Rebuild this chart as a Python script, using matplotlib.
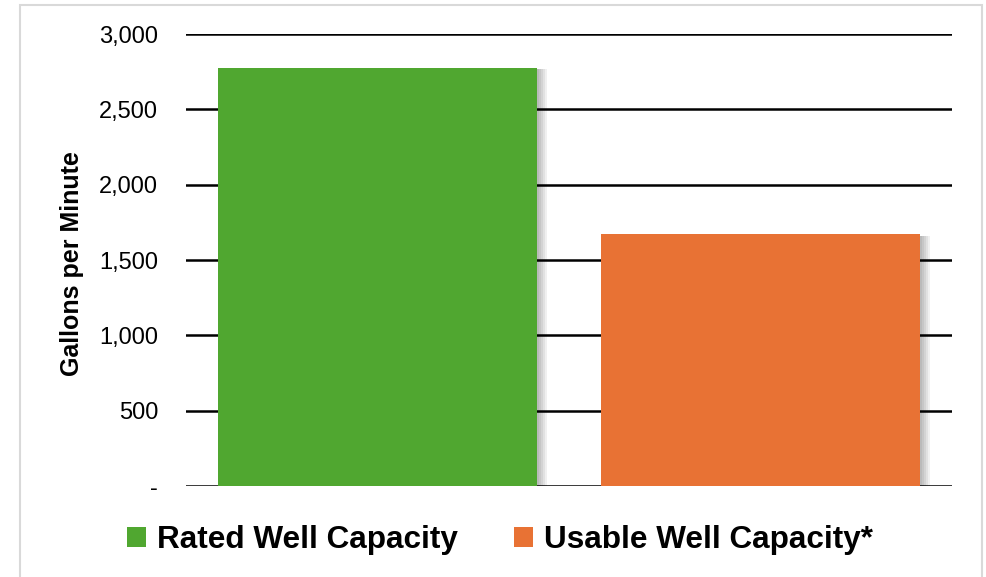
import matplotlib.pyplot as plt
import matplotlib.patheffects as pe
from matplotlib.patches import Rectangle, Patch

categories = ["Rated Well Capacity", "Usable Well Capacity*"]
values = [2775, 1670]
colors = ["#50A730", "#E87234"]
yticks = [0, 500, 1000, 1500, 2000, 2500, 3000]
ytick_labels = ["-", "500", "1,000", "1,500", "2,000", "2,500", "3,000"]

plt.rcParams['font.family'] = ['Liberation Sans', 'DejaVu Sans']

fig = plt.figure(figsize=(9.87, 5.77), dpi=100)
ax = fig.add_axes([186/987, 1 - 486/577, (952-186)/987, (486-34)/577])

# cadre gris autour de la figure
fig.patches.append(Rectangle((20/987, -0.01), (982-20)/987, 1 - 5/577 + 0.01,
                             transform=fig.transFigure, fill=False,
                             edgecolor="#d9d9d9", linewidth=1.5))

# lignes de grille
for y in yticks:
    ax.axhline(y, color="black", linewidth=1.8, zorder=1)

# ombre des barres
ombre = [pe.SimplePatchShadow(offset=(d, -1), shadow_rgbFace="black", alpha=0.06)
         for d in (7, 5.5, 4, 2.5, 1.2)]
x = range(len(categories))
bars = ax.bar(x, values, width=0.835, color=colors, zorder=2)
for b in bars:
    b.set_path_effects(ombre + [pe.Normal()])

ax.set_xlim(-0.5, 1.5)
ax.set_ylim(0, 3000)
ax.set_yticks(yticks)
ax.set_yticklabels(ytick_labels, fontsize=17)
ax.tick_params(axis="y", length=0, pad=20)
ax.set_xticks([])
for s in ax.spines.values():
    s.set_visible(False)

ax.set_ylabel("Gallons per Minute", fontsize=18, fontweight="bold")
ax.yaxis.set_label_coords(-0.133, 0.493)

handles = [Patch(facecolor=c, edgecolor="none") for c in colors]
fig.legend(handles, categories, loc="center", bbox_to_anchor=(500/987, 1 - 540/577),
           ncol=2, frameon=False, handlelength=0.6, handleheight=0.6,
           handletextpad=0.35, columnspacing=1.8, prop={"weight": "bold", "size": 22.7})

fig.savefig("out.png", dpi=100)
